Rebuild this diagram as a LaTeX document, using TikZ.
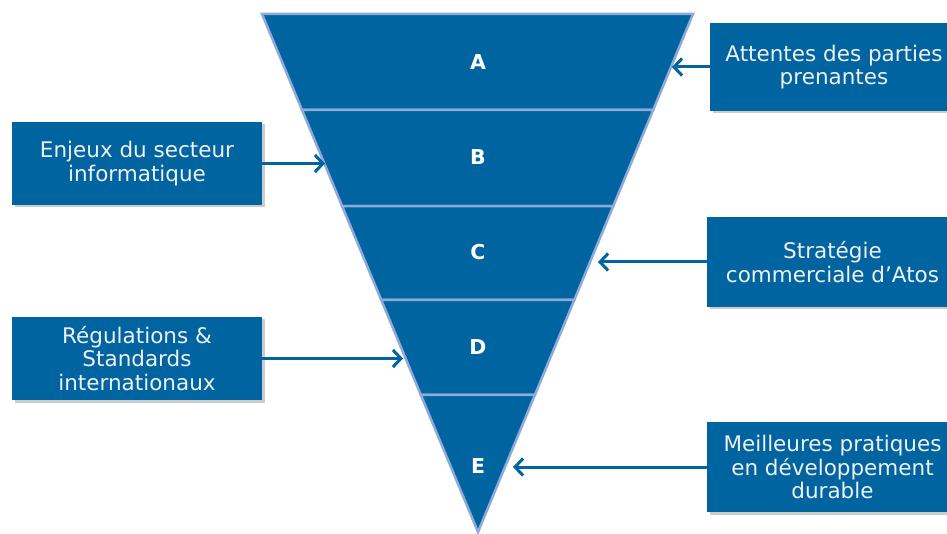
\documentclass[tikz,border=0pt]{standalone}
\usepackage{fontspec}
\setmainfont{DejaVu Sans}
\usetikzlibrary{calc}
\usetikzlibrary{arrows.meta}
\usetikzlibrary{shadows}
\definecolor{atosblue}{HTML}{0064A1}
\definecolor{bandline}{HTML}{8FAAD9}
\definecolor{boxtext}{HTML}{F0F0F0}
\tikzset{>={Straight Barb[length=8pt,width=17pt]}}
\tikzset{
	band/.style={fill=atosblue,draw=bandline,line width=2.5pt},
	lettre/.style={text=white,font=\bfseries\fontsize{20.5}{22}\selectfont},
	cadre/.style={fill=atosblue,text=boxtext,align=center,font=\fontsize{21.5}{23.5}\selectfont,
		drop shadow={opacity=0.4,shadow xshift=2.5pt,shadow yshift=-2.5pt}},
	fleche/.style={->,draw=atosblue,line width=3pt}
}

\begin{document}
\begin{tikzpicture}[x=1pt,y=-1pt]
	\useasboundingbox (0,0) rectangle (947,534);
	\coordinate (hg) at (262,14);
	\coordinate (hd) at (693,14);
	\coordinate (pointe) at (478,532);
	\draw[band] (hg) -- (hd) -- ($(hd)!0.1853!(pointe)$) -- ($(hg)!0.1853!(pointe)$) -- cycle;
	\draw[band] ($(hg)!0.1853!(pointe)$) -- ($(hd)!0.1853!(pointe)$) -- ($(hd)!0.3707!(pointe)$) -- ($(hg)!0.3707!(pointe)$) -- cycle;
	\draw[band] ($(hg)!0.3707!(pointe)$) -- ($(hd)!0.3707!(pointe)$) -- ($(hd)!0.5521!(pointe)$) -- ($(hg)!0.5521!(pointe)$) -- cycle;
	\draw[band] ($(hg)!0.5521!(pointe)$) -- ($(hd)!0.5521!(pointe)$) -- ($(hd)!0.7355!(pointe)$) -- ($(hg)!0.7355!(pointe)$) -- cycle;
	\draw[band] ($(hg)!0.7355!(pointe)$) -- ($(hd)!0.7355!(pointe)$) -- (pointe) -- cycle;
	\node[lettre] (a) at (478,62) {A};
	\node[lettre] (b) at (478,157) {B};
	\node[lettre] (c) at (478,252) {C};
	\node[lettre] (d) at (478,347) {D};
	\node[lettre] (e) at (478,466) {E};
	\node[cadre,minimum width=248pt,minimum height=88pt] (attentes) at (834,67) {Attentes des parties\\prenantes};
	\node[cadre,minimum width=250pt,minimum height=83pt] (enjeux) at (137,163.5) {Enjeux du secteur\\informatique};
	\node[cadre,minimum width=251pt,minimum height=90pt] (strategie) at (832.5,262) {Stratégie\\commerciale d’Atos};
	\node[cadre,minimum width=250pt,minimum height=83pt] (regulations) at (137,358.5) {Régulations \&\\Standards\\internationaux};
	\node[cadre,minimum width=251pt,minimum height=90pt] (pratiques) at (832.5,467) {Meilleures pratiques\\en développement\\durable};
	\coordinate (pa) at (672,67);
	\coordinate (pb) at (325,163.5);
	\coordinate (pc) at (598,262);
	\coordinate (pd) at (403,358.5);
	\coordinate (pe) at (513,467);
	\draw[fleche] (attentes) -- (pa);
	\draw[fleche] (enjeux) -- (pb);
	\draw[fleche] (strategie) -- (pc);
	\draw[fleche] (regulations) -- (pd);
	\draw[fleche] (pratiques) -- (pe);
\end{tikzpicture}
\end{document}
